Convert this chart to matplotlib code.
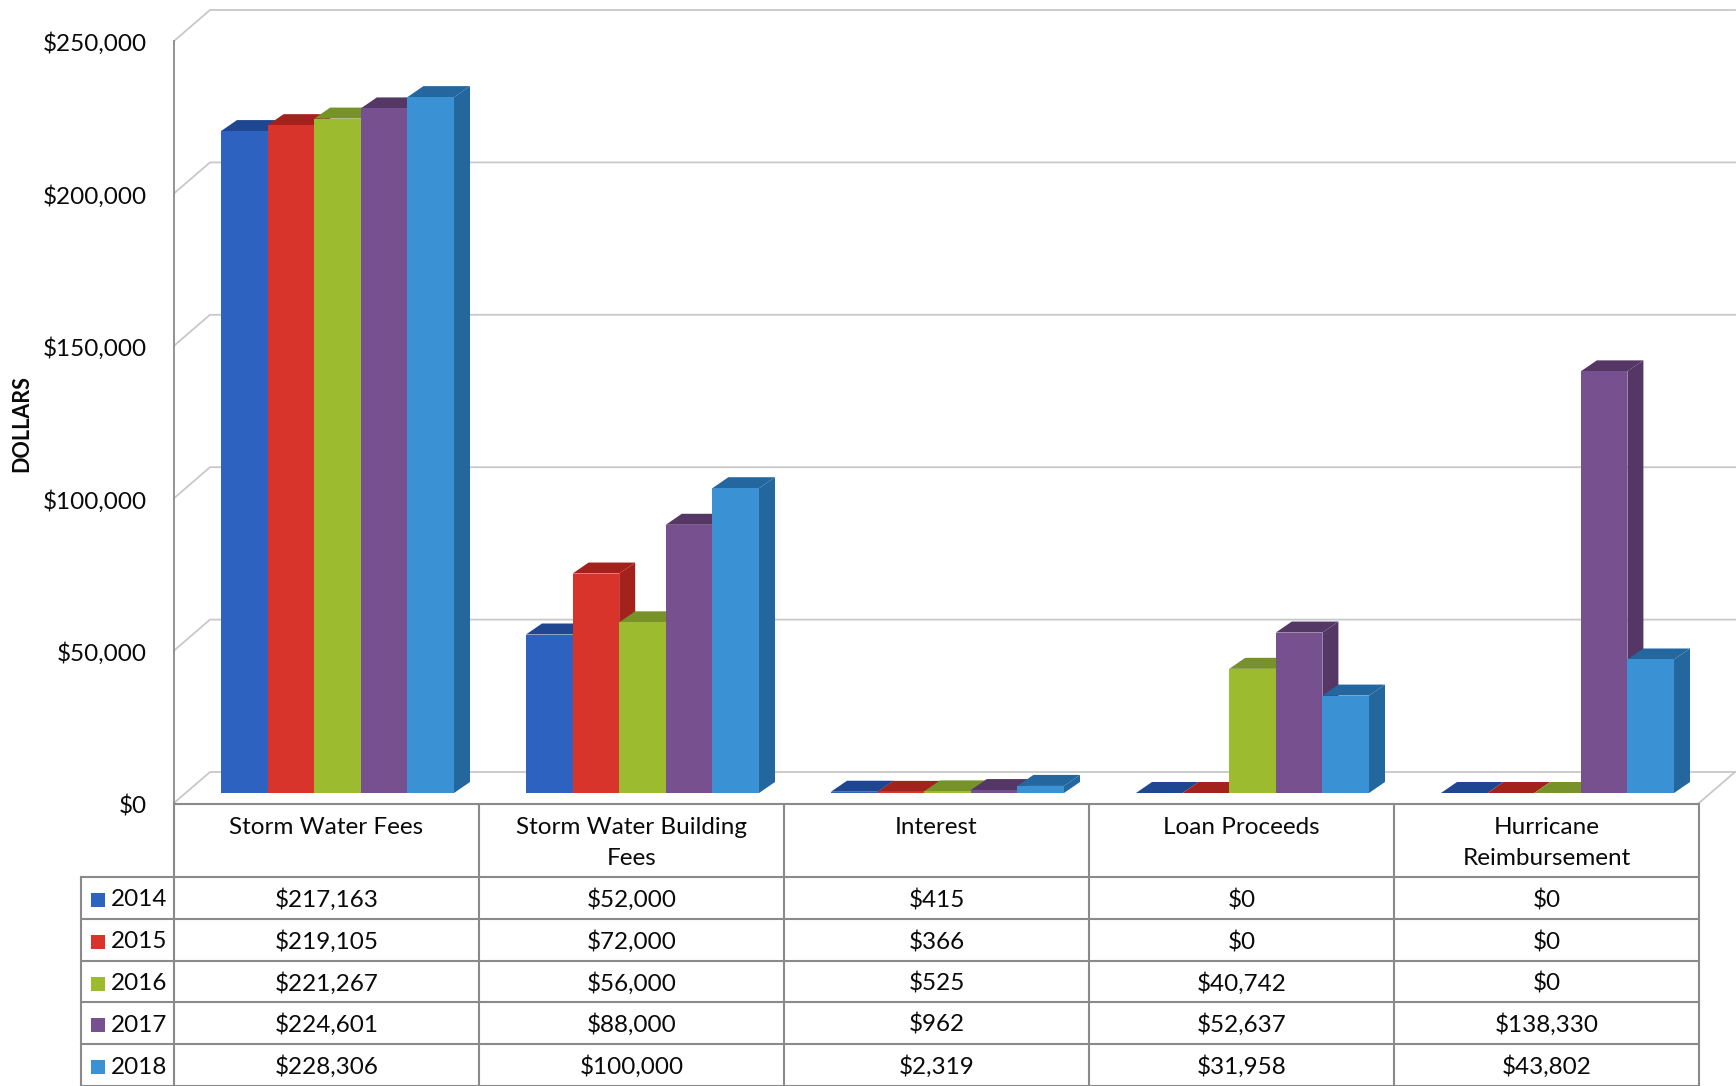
import numpy as np
import matplotlib as mpl
mpl.use('Agg')
import matplotlib.pyplot as plt
from matplotlib.patches import Polygon, Rectangle
from matplotlib.lines import Line2D

plt.rcParams['font.family'] = ['Lato', 'DejaVu Sans']

categories = ['Storm Water Fees', 'Storm Water Building\nFees', 'Interest',
              'Loan Proceeds', 'Hurricane\nReimbursement']
years = ['2014', '2015', '2016', '2017', '2018']
v2014 = [217163, 52000, 415, 0, 0]
v2015 = [219105, 72000, 366, 0, 0]
v2016 = [221267, 56000, 525, 40742, 0]
v2017 = [224601, 88000, 962, 52637, 138330]
v2018 = [228306, 100000, 2319, 31958, 43802]
series = [v2014, v2015, v2016, v2017, v2018]
yticks = [0, 50000, 100000, 150000, 200000, 250000]

front_col = ['#2E62C0', '#D9342B', '#9DBB2F', '#76508F', '#3A91D4']
dark_col = ['#1F4690', '#A3231C', '#78922A', '#553766', '#23679E']

W, H = 1736, 1086
fig = plt.figure(figsize=(W / 100, H / 100), dpi=100)

# bar front plane, in pixels (top origin)
L, R, T, B = 185, 1710, 31, 793
ax = fig.add_axes([L / W, 1 - B / H, (R - L) / W, (B - T) / H])
ax.set_xlim(-0.5, 4.5)
ax.set_ylim(0, 250000)
ax.axis('off')

ppx = (R - L) / 5.0
ppy = (B - T) / 250000.0
def dx(p):
    return p / ppx
def dy(p):
    return p / ppy

FX, FY = -11, -10      # front plane offset
BX, BY = 25, 21        # back wall offset
DX, DY = 16, 11        # bar depth

grid_c = '#c8c8c8'
edge_c = '#8a8a8a'
txt_c = '#0a0a0a'

# back wall gridlines and left wall diagonals
x0, x1 = -0.5, 4.5
for v in yticks:
    ax.add_line(Line2D([x0 + dx(FX), x0 + dx(BX), x1 + dx(BX)],
                       [v + dy(FY), v + dy(BY), v + dy(BY)],
                       color=grid_c, lw=1.3, clip_on=False, zorder=1))
# floor right edge
ax.add_line(Line2D([x1 + dx(FX), x1 + dx(BX)], [dy(FY), dy(BY)],
                   color=grid_c, lw=1.3, clip_on=False, zorder=1))
# front axis line
ax.add_line(Line2D([x0 + dx(FX), x0 + dx(FX)], [dy(FY), 250000 + dy(FY)],
                   color=edge_c, lw=1.3, clip_on=False, zorder=1))

# tick labels
for v in yticks:
    ax.text(x0 + dx(FX) - dx(27), v + dy(FY - 3), '${:,}'.format(v),
            ha='right', va='center', fontsize=17.5, color=txt_c)

fig.text(22 / W, 1 - 424 / H, 'DOLLARS', rotation=90, ha='center',
         va='center', fontsize=15.5, fontweight='bold', color=txt_c)

# 3D-look bars
bw = 0.764 / 5
for c in range(len(categories)):
    for s in range(len(series)):
        v = series[s][c]
        xl = c - 0.382 + s * bw
        xr = xl + bw
        side = Polygon([(xr, 0), (xr + dx(DX), dy(DY)), (xr + dx(DX), v + dy(DY)),
                        (xr, v)], closed=True, fc=dark_col[s], ec='none',
                       zorder=2 + s)
        top = Polygon([(xl, v), (xr, v), (xr + dx(DX), v + dy(DY)),
                       (xl + dx(DX), v + dy(DY))], closed=True,
                      fc=dark_col[s], ec='none', zorder=2 + s)
        front = Rectangle((xl, 0), bw, v, fc=front_col[s], ec='none',
                          zorder=2 + s)
        ax.add_patch(side)
        ax.add_patch(top)
        ax.add_patch(front)

# data table
tab_top = 804
row_edges = [877, 919, 961, 1002, 1044, 1086]
leg_left = 81
colx = [ax.transData.transform((x0 + i + dx(FX), 0))[0] for i in range(6)]

def hline(y, xa, xb):
    fig.add_artist(Line2D([xa / W, xb / W], [1 - y / H, 1 - y / H],
                          color=edge_c, lw=1.5))

def vline(x, ya, yb):
    fig.add_artist(Line2D([x / W, x / W], [1 - ya / H, 1 - yb / H],
                          color=edge_c, lw=1.5))

hline(tab_top, colx[0], colx[-1])
for y in row_edges:
    hline(y, leg_left, colx[-1])
for x in colx:
    vline(x, tab_top, H)
vline(leg_left, row_edges[0], H)

for i, cat in enumerate(categories):
    xc = (colx[i] + colx[i + 1]) / 2
    fig.text(xc / W, 1 - 817 / H, cat, ha='center', va='top', fontsize=17.5,
             linespacing=1.6, color=txt_c)

for r in range(len(years)):
    yc = (row_edges[r] + row_edges[r + 1]) / 2 + 2
    fig.add_artist(Rectangle((91 / W, 1 - (yc + 7) / H), 14 / W, 14 / H,
                             transform=fig.transFigure, fc=front_col[r],
                             ec='none'))
    fig.text(111 / W, 1 - yc / H, years[r], ha='left', va='center',
             fontsize=17.5, color=txt_c)
    for i in range(len(categories)):
        xc = (colx[i] + colx[i + 1]) / 2
        fig.text(xc / W, 1 - yc / H, '${:,}'.format(series[r][i]),
                 ha='center', va='center', fontsize=17.5, color=txt_c)

fig.savefig('out.png', dpi=100, facecolor='white')
